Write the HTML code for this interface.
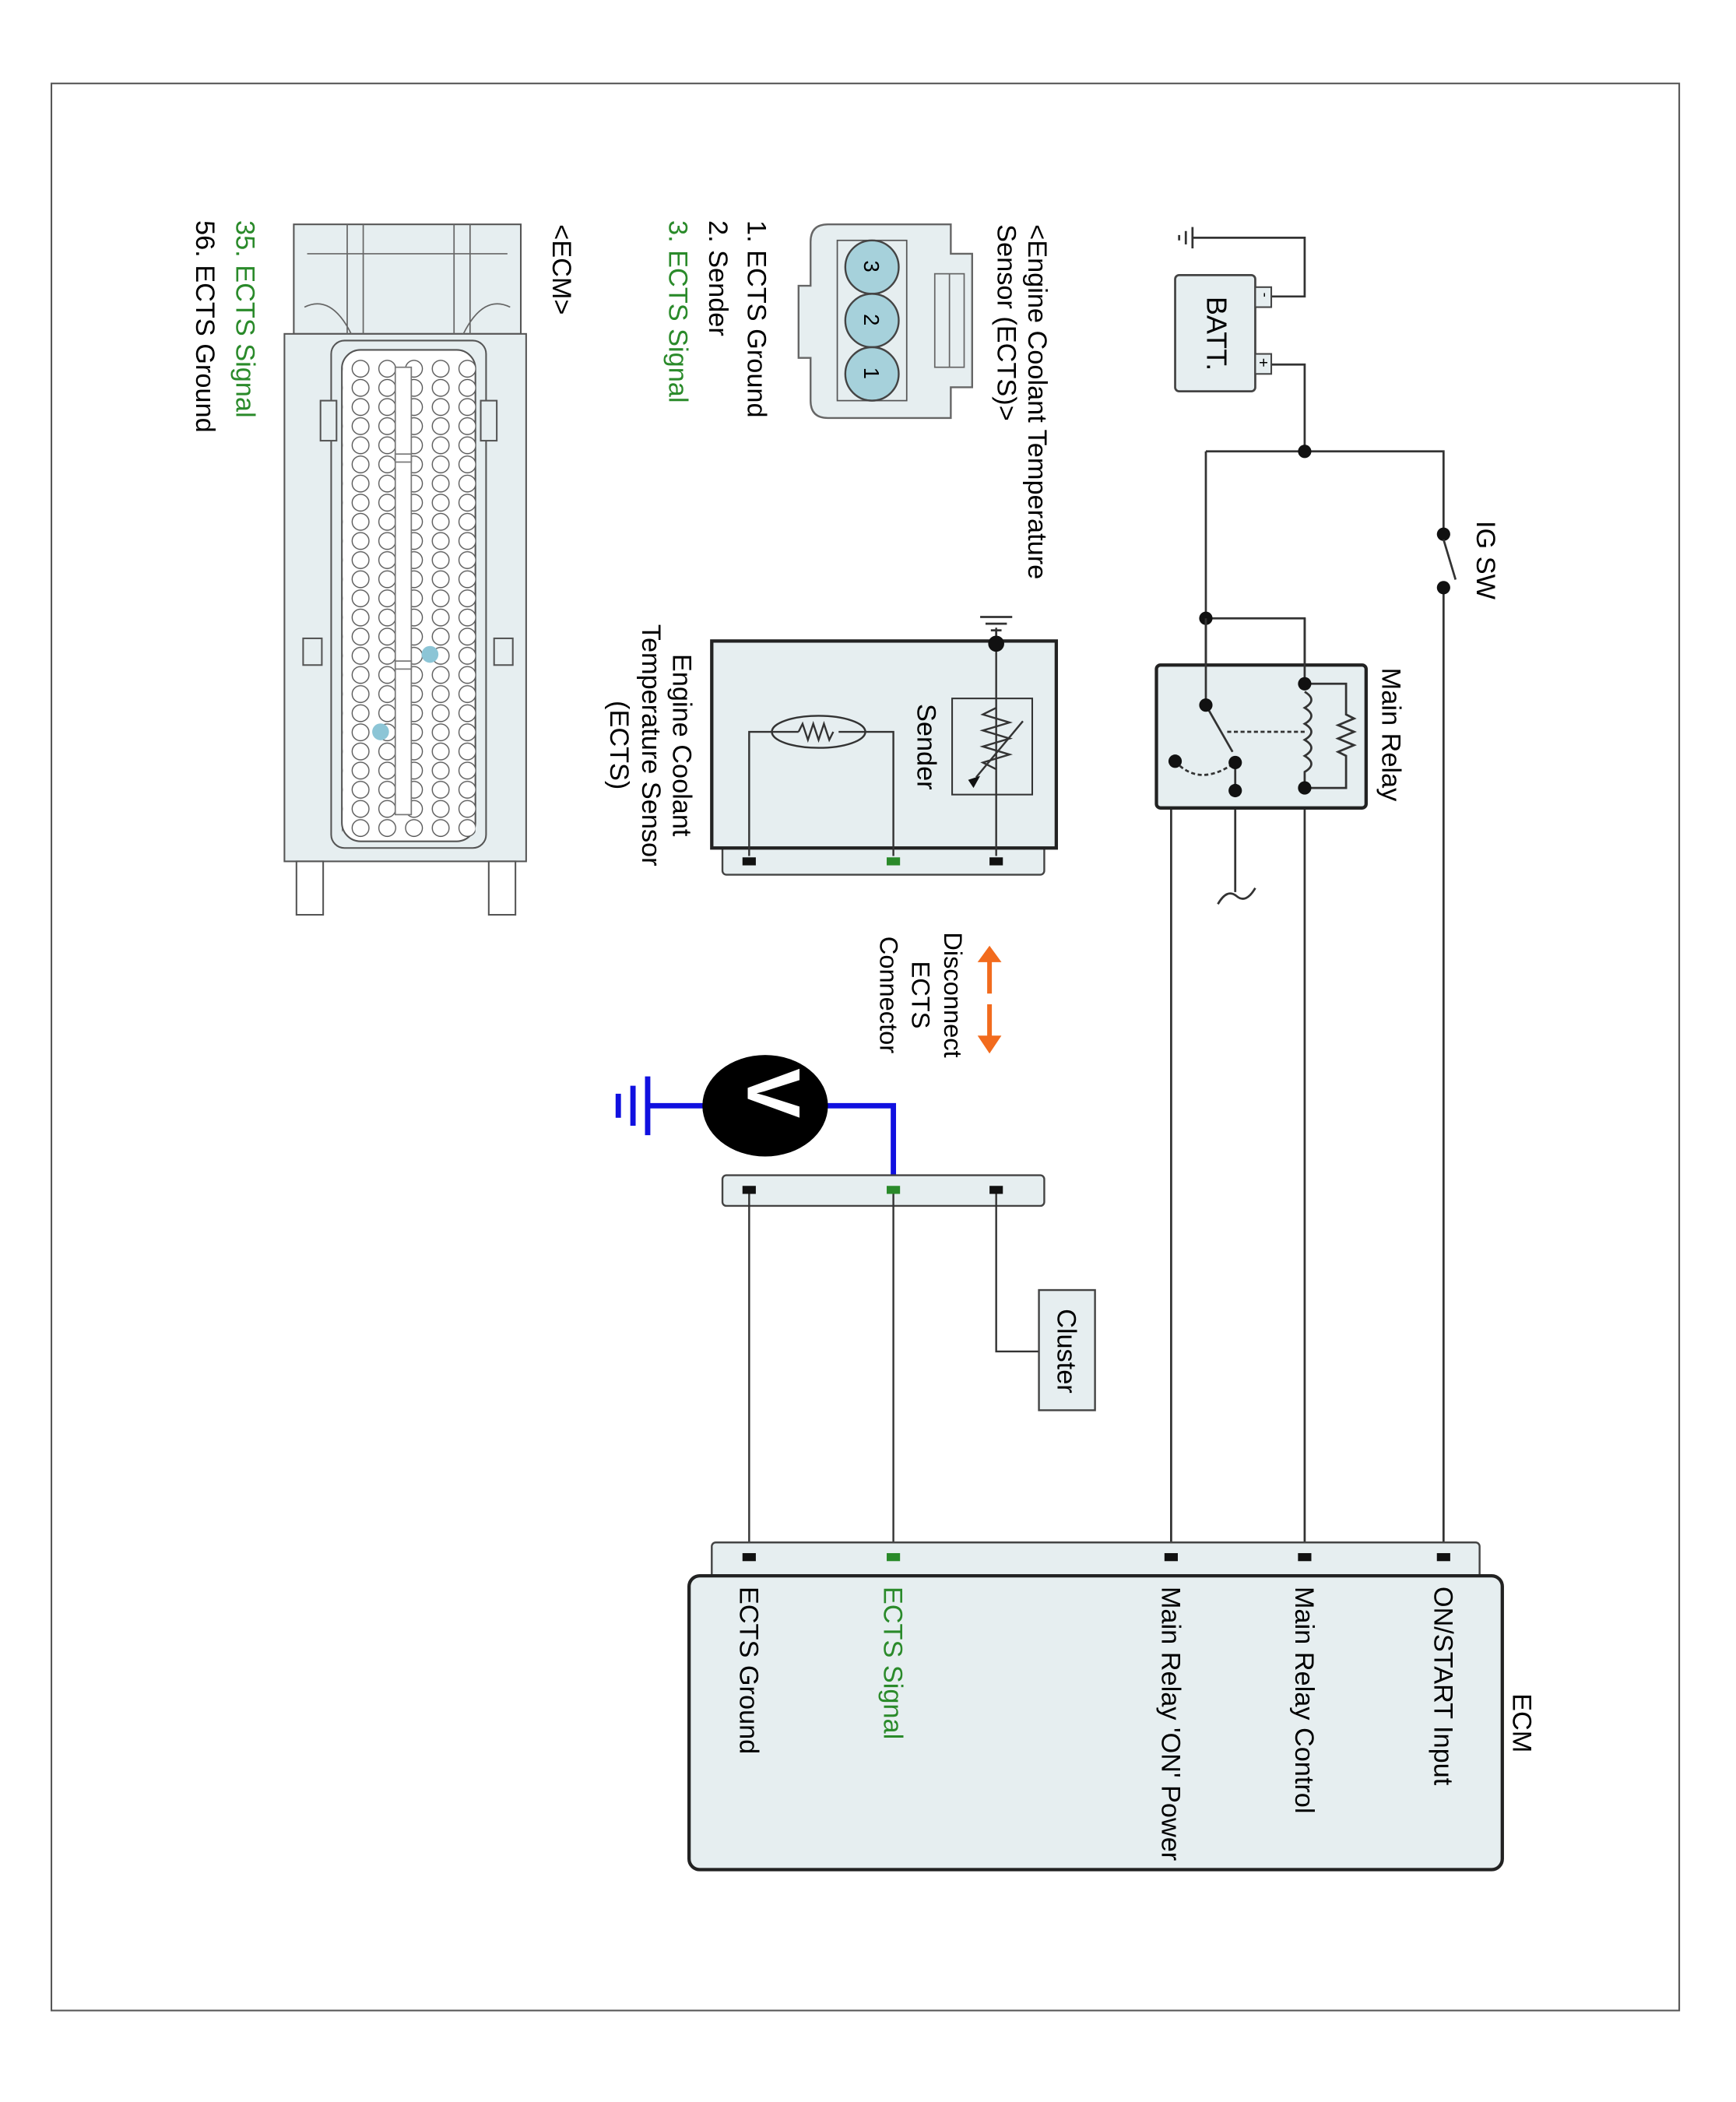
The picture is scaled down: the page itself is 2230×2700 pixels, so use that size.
<!DOCTYPE html>
<html><head><meta charset="utf-8"><style>
html,body{margin:0;padding:0;background:#fff}
svg{display:block}
text{font-family:"Liberation Sans",Arial,sans-serif}
</style></head><body>
<svg width="2230" height="2700" viewBox="0 0 1300 1574" xmlns="http://www.w3.org/2000/svg">
<defs>
<pattern id="pin" x="0" y="269" width="20" height="14.33" patternUnits="userSpaceOnUse">
<circle cx="10" cy="7.1" r="6.3" fill="#fff" stroke="#555" stroke-width="0.8"/>
</pattern>
</defs>
<rect x="38.5" y="62.5" width="1219" height="1443" fill="#fff" stroke="#555" stroke-width="1.2"/>

<g stroke="#333" stroke-width="1.6" fill="none">
<path d="M952 222 H977 V178 H893"/>
<path d="M952 273 H977 V338"/>
<path d="M903 338 H1081 V400"/>
<path d="M1081 440 V1162"/>
<path d="M903 338 V528"/>
<path d="M903 463 H977 V512"/>
<path d="M977 590 V1162"/>
<path d="M925 592 H877 V1162"/>
<path d="M925 571 V668"/>
<path d="M912 677 q7 -12 14 -6 q7 6 14 -6"/>
</g>
<g stroke="#333" stroke-width="1.6">
<line x1="893" y1="170" x2="893" y2="186"/><line x1="888" y1="173" x2="888" y2="183"/><line x1="883" y1="176" x2="883" y2="180"/>
</g>
<rect x="880" y="206" width="60" height="87" rx="3" fill="#e6eef0" stroke="#444" stroke-width="1.6"/>
<rect x="940" y="215" width="12" height="15" fill="#e6eef0" stroke="#444" stroke-width="1.2"/>
<rect x="940" y="265" width="12" height="15" fill="#e6eef0" stroke="#444" stroke-width="1.2"/>
<text transform="translate(944,219) rotate(90)" font-size="11">-</text>
<text transform="translate(942,268) rotate(90)" font-size="12">+</text>
<text transform="translate(904,222) rotate(90)" font-size="21">BATT.</text>
<circle cx="977" cy="338" r="5" fill="#111"/>
<circle cx="903" cy="463" r="5" fill="#111"/>
<circle cx="1081" cy="400" r="5" fill="#111"/><circle cx="1081" cy="440" r="5" fill="#111"/>
<line x1="1081" y1="404" x2="1090" y2="434" stroke="#333" stroke-width="1.6"/>
<text transform="translate(1106,390) rotate(90)" font-size="20">IG SW</text>

<rect x="866" y="498" width="157" height="107" rx="3" fill="#e6eef0" stroke="#222" stroke-width="2.5"/>
<g stroke="#333" stroke-width="1.6" fill="none">
<path d="M903 463 V528"/>
<path d="M977 463 V512"/>
<path d="M977 512 H1008 V535 l6 3 -12 5 12 5 -12 5 12 5 -12 5 6 3 V590 H977"/>
<path d="M977 518 q10 6 0 12 q10 6 0 12 q10 6 0 12 q10 6 0 12 q10 6 0 12 V590"/>
<path d="M903 528 L923 563"/>
<path d="M977 548 H918" stroke-dasharray="3 2"/>
<path d="M880 570 q18 20 45 1" stroke-dasharray="3 2"/>
<path d="M925 571 V592"/>
</g>
<circle cx="977" cy="512" r="5" fill="#111"/><circle cx="977" cy="590" r="5" fill="#111"/>
<circle cx="903" cy="528" r="5" fill="#111"/><circle cx="925" cy="571" r="5" fill="#111"/>
<circle cx="925" cy="592" r="5" fill="#111"/><circle cx="880" cy="570" r="5" fill="#111"/>
<text transform="translate(1035,500) rotate(90)" font-size="20">Main Relay</text>

<rect x="541" y="630" width="241" height="25" rx="3" fill="#e6eef0" stroke="#444" stroke-width="1.4"/>
<rect x="533" y="480" width="258" height="155" fill="#e6eef0" stroke="#222" stroke-width="2.5"/>
<g stroke="#333" stroke-width="1.4" fill="none">
<path d="M746 470 V641"/>
<rect x="713" y="523" width="60" height="72" stroke-width="1.2"/>
<path d="M746 530 l-10 5 20 6 -20 6 20 6 -20 6 20 6 -20 6 10 5"/>
<path d="M766 540 L731 582"/>
<ellipse cx="613" cy="548" rx="35" ry="12"/>
<path d="M598 548 l3 -6 4 12 4 -12 4 12 4 -12 4 12 3 -6"/>
<path d="M578 548 H561 V641"/><path d="M598 548 H578"/><path d="M628 548 H669 V641"/>
</g>
<path d="M725 584 l9 -3 -5 9 z" fill="#111"/>
<g stroke="#333" stroke-width="1.6"><line x1="758" y1="462" x2="734" y2="462"/><line x1="754" y1="467" x2="738" y2="467"/><line x1="750" y1="472" x2="742" y2="472"/><line x1="746" y1="472" x2="746" y2="482"/></g>
<circle cx="746" cy="482" r="6" fill="#111"/>
<rect x="556" y="642" width="10" height="6" fill="#111"/><rect x="664" y="642" width="10" height="6" fill="#2a8a2a"/><rect x="741" y="642" width="10" height="6" fill="#111"/>
<text transform="translate(687,527) rotate(90)" font-size="20">Sender</text>
<text transform="translate(504,558) rotate(90)" font-size="20" text-anchor="middle">Engine Coolant</text>
<text transform="translate(481,558) rotate(90)" font-size="20" text-anchor="middle">Temperature Sensor</text>
<text transform="translate(457,558) rotate(90)" font-size="20" text-anchor="middle">(ECTS)</text>

<g fill="#f26b1d" stroke="#f26b1d" stroke-width="3.5">
<line x1="741" y1="718" x2="741" y2="744"/><path d="M733 720 L741 709 L749 720 Z" stroke-width="1"/>
<line x1="741" y1="752" x2="741" y2="778"/><path d="M733 776 L741 788 L749 776 Z" stroke-width="1"/>
</g>
<text transform="translate(707,745) rotate(90)" font-size="19" text-anchor="middle">Disconnect</text>
<text transform="translate(683,745) rotate(90)" font-size="19" text-anchor="middle">ECTS</text>
<text transform="translate(659,745) rotate(90)" font-size="19" text-anchor="middle">Connector</text>

<g stroke="#1010e0" stroke-width="4" fill="none">
<path d="M615 828 H669 V889"/><path d="M530 828 H485"/>
<line x1="485" y1="806" x2="485" y2="850"/><line x1="474" y1="813" x2="474" y2="843"/><line x1="463" y1="819" x2="463" y2="837"/>
</g>
<ellipse cx="573" cy="828" rx="47" ry="38" fill="#000"/>
<text transform="translate(560,800) rotate(90)" font-size="56" font-weight="bold" fill="#fff">V</text>

<rect x="541" y="880" width="241" height="23" rx="3" fill="#e6eef0" stroke="#444" stroke-width="1.4"/>
<rect x="556" y="888" width="10" height="6" fill="#111"/><rect x="664" y="888" width="10" height="6" fill="#2a8a2a"/><rect x="741" y="888" width="10" height="6" fill="#111"/>
<g stroke="#333" stroke-width="1.4" fill="none">
<path d="M746 894 V1012 H778"/><path d="M561 894 V1162"/><path d="M669 894 V1162"/>
</g>
<rect x="778" y="966" width="42" height="90" fill="#e6eef0" stroke="#444" stroke-width="1.4"/>
<text transform="translate(792,980) rotate(90)" font-size="20">Cluster</text>

<rect x="533" y="1155" width="575" height="30" rx="3" fill="#e6eef0" stroke="#444" stroke-width="1.4"/>
<rect x="516" y="1180" width="609" height="220" rx="8" fill="#e6eef0" stroke="#222" stroke-width="2.5"/>
<rect x="556" y="1163" width="10" height="6" fill="#111"/><rect x="664" y="1163" width="10" height="6" fill="#2a8a2a"/>
<rect x="872" y="1163" width="10" height="6" fill="#111"/><rect x="972" y="1163" width="10" height="6" fill="#111"/><rect x="1076" y="1163" width="10" height="6" fill="#111"/>
<g font-size="20">
<text transform="translate(1133,1268) rotate(90)">ECM</text>
<text transform="translate(1074,1188) rotate(90)">ON/START Input</text>
<text transform="translate(970,1188) rotate(90)">Main Relay Control</text>
<text transform="translate(870,1188) rotate(90)">Main Relay 'ON' Power</text>
<text transform="translate(662,1188) rotate(90)" fill="#2a8a2a">ECTS Signal</text>
<text transform="translate(554,1188) rotate(90)">ECTS Ground</text>
</g>

<path d="M620 168 H712 V190 H728 V290 H712 V313 H620 Q607 313 607 300 V268 H598 V214 H607 V181 Q607 168 620 168 Z" fill="#e6eef0" stroke="#666" stroke-width="1.4"/>
<rect x="700" y="205" width="22" height="70" fill="none" stroke="#666" stroke-width="1"/>
<line x1="711" y1="205" x2="711" y2="275" stroke="#666"/>
<rect x="627" y="180" width="52" height="120" fill="none" stroke="#555" stroke-width="1"/>
<g fill="#a6d1db" stroke="#444" stroke-width="1.4">
<circle cx="653" cy="200" r="20"/><circle cx="653" cy="240" r="20"/><circle cx="653" cy="280" r="20"/>
</g>
<g font-size="16"><text transform="translate(647,195) rotate(90)">3</text><text transform="translate(647,235) rotate(90)">2</text><text transform="translate(647,275) rotate(90)">1</text></g>
<g font-size="20">
<text transform="translate(770,168) rotate(90)">&lt;Engine Coolant Temperature</text>
<text transform="translate(747,168) rotate(90)">Sensor (ECTS)&gt;</text>
<text transform="translate(560,165) rotate(90)">1. ECTS Ground</text>
<text transform="translate(531,165) rotate(90)">2. Sender</text>
<text transform="translate(501,165) rotate(90)" fill="#2a8a2a">3. ECTS Signal</text>
<text transform="translate(414,168) rotate(90)">&lt;ECM&gt;</text>
<text transform="translate(177,165) rotate(90)" fill="#2a8a2a">35. ECTS Signal</text>
<text transform="translate(147,165) rotate(90)">56. ECTS Ground</text>
</g>

<g stroke="#555" stroke-width="1.2" fill="#e6eef0">
<rect x="220" y="168" width="170" height="82"/>
<rect x="213" y="250" width="181" height="395"/>
<rect x="222" y="645" width="20" height="40" fill="#fff"/><rect x="366" y="645" width="20" height="40" fill="#fff"/>
<rect x="248" y="255" width="116" height="380" rx="10"/>
<rect x="256" y="262" width="100" height="368" rx="14" fill="#fff"/>
<rect x="240" y="300" width="12" height="30"/><rect x="360" y="300" width="12" height="30"/>
<rect x="227" y="478" width="14" height="20"/><rect x="370" y="478" width="14" height="20"/>
</g>
<g stroke="#666" stroke-width="1" fill="none">
<path d="M260 168 V250 M272 168 V250 M340 168 V250 M352 168 V250 M230 190 H380 M228 230 q20 -10 35 20 M382 230 q-20 -10 -35 20"/>
</g>
<rect x="256" y="269" width="100" height="358.3" fill="url(#pin)"/>
<rect x="296" y="275" width="12" height="335" fill="#fff" stroke="#777" stroke-width="1"/>
<rect x="296" y="340" width="12" height="6" fill="#fff" stroke="#777" stroke-width="1"/>
<rect x="296" y="495" width="12" height="6" fill="#fff" stroke="#777" stroke-width="1"/>
<circle cx="322" cy="490" r="6.3" fill="#8cc5d6"/>
<circle cx="285" cy="548" r="6.3" fill="#8cc5d6"/>
</svg>
</body></html>
